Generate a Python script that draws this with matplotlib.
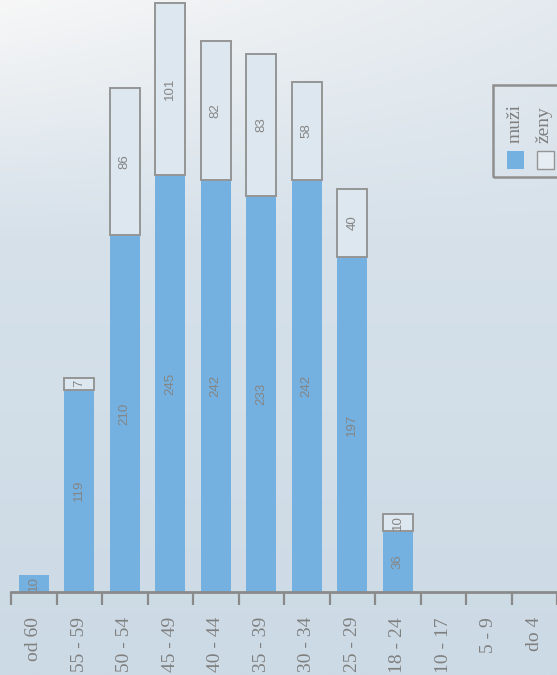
import numpy as np
import matplotlib
matplotlib.use("Agg")
import matplotlib.pyplot as plt
from matplotlib.patches import Rectangle

categories = ["od 60", "55 - 59", "50 - 54", "45 - 49", "40 - 44", "35 - 39",
              "30 - 34", "25 - 29", "18 - 24", "10 - 17", "5 - 9", "do 4"]
muzi = [10, 119, 210, 245, 242, 233, 242, 197, 36, 0, 0, 0]
zeny = [0, 7, 86, 101, 82, 83, 58, 40, 10, 0, 0, 0]
legend_labels = ["muži", "ženy"]

W, H = 557, 675
fig = plt.figure(figsize=(W / 100, H / 100), dpi=100)

# background gradient
bg = fig.add_axes([0, 0, 1, 1], zorder=-10)
yy, xx = np.mgrid[0:1:200j, 0:1:200j]  # yy: 0 top -> 1 bottom
top_left = np.array([247, 247, 247]) / 255
top_right = np.array([228, 234, 239]) / 255
mid = np.array([214, 225, 234]) / 255
bottom = np.array([204, 218, 229]) / 255
top = top_left[None, None, :] * (1 - xx[..., None]) + top_right[None, None, :] * xx[..., None]
t1 = np.clip(yy / 0.35, 0, 1)[..., None]
t2 = np.clip((yy - 0.35) / 0.65, 0, 1)[..., None]
img = np.where(yy[..., None] < 0.35, top * (1 - t1) + mid * t1, mid * (1 - t2) + bottom * t2)
bg.imshow(img, aspect="auto", extent=[0, 1, 0, 1], origin="upper")
bg.axis("off")

left = 11 / W
bottom_ax = (H - 592) / H
ax = fig.add_axes([left, bottom_ax, 1 - left, 1 - bottom_ax])
ax.patch.set_alpha(0)

x = np.arange(len(categories))
bw = 0.66
blue = "#74b1e0"
ax.bar(x, muzi, width=bw, color=blue, edgecolor="none", zorder=2)
zx = [xi for xi, z in zip(x, zeny) if z > 0]
zb = [m for m, z in zip(muzi, zeny) if z > 0]
zv = [z for z in zeny if z > 0]
ax.bar(zx, zv, bottom=zb, width=bw, color="#dde7ef", edgecolor="#959595",
       linewidth=1.4, zorder=2)

lab_kw = dict(rotation=90, ha="center", va="center", color="#858585",
              fontsize=9.5, family="Liberation Sans", zorder=3)
for xi, m, z in zip(x, muzi, zeny):
    if m > 0:
        ax.text(xi, m / 2, str(m), **lab_kw)
    if z > 0:
        ax.text(xi, m + z / 2, str(z), **lab_kw)

ax.set_xlim(-0.5, len(categories) - 0.5)
ax.set_ylim(0, 348)
for s in ["top", "right", "left"]:
    ax.spines[s].set_visible(False)
ax.spines["bottom"].set_color("#8a8a8a")
ax.spines["bottom"].set_linewidth(2)
ax.spines["bottom"].set_zorder(4)
ax.set_yticks([])
ax.set_xticks(np.arange(-0.5, len(categories), 1.0))
ax.set_xticklabels([])
ax.tick_params(axis="x", which="major", length=9, width=1.6, color="#8a8a8a",
               direction="out")
ax.set_xticks(x, minor=True)
ax.set_xticklabels(categories, minor=True, rotation=90, ha="center", va="top",
                   family="Liberation Serif", fontsize=14, color="#7f7f7f")
ax.tick_params(axis="x", which="minor", length=0, pad=18)

# legend (rotated)
def fx(px):
    return px / W

def fy(py):
    return 1 - py / H

fig.patches.append(Rectangle((fx(493), fy(177)), fx(80), 92 / H,
                             transform=fig.transFigure, facecolor="none",
                             edgecolor="#8f8f8f", linewidth=1.8, zorder=5))
fig.patches.append(Rectangle((fx(507), fy(169)), fx(17), 18 / H,
                             transform=fig.transFigure, facecolor=blue,
                             edgecolor="none", zorder=5))
fig.patches.append(Rectangle((fx(537), fy(169)), fx(17), 18 / H,
                             transform=fig.transFigure, facecolor="#e6edf3",
                             edgecolor="#959595", linewidth=1.0, zorder=5))
for px, lab in zip([515, 544], legend_labels):
    fig.text(fx(px), fy(143), lab, rotation=90, ha="center", va="bottom",
             family="Liberation Serif", fontsize=14, color="#7f7f7f", zorder=6)

fig.savefig("out.png", dpi=100)
